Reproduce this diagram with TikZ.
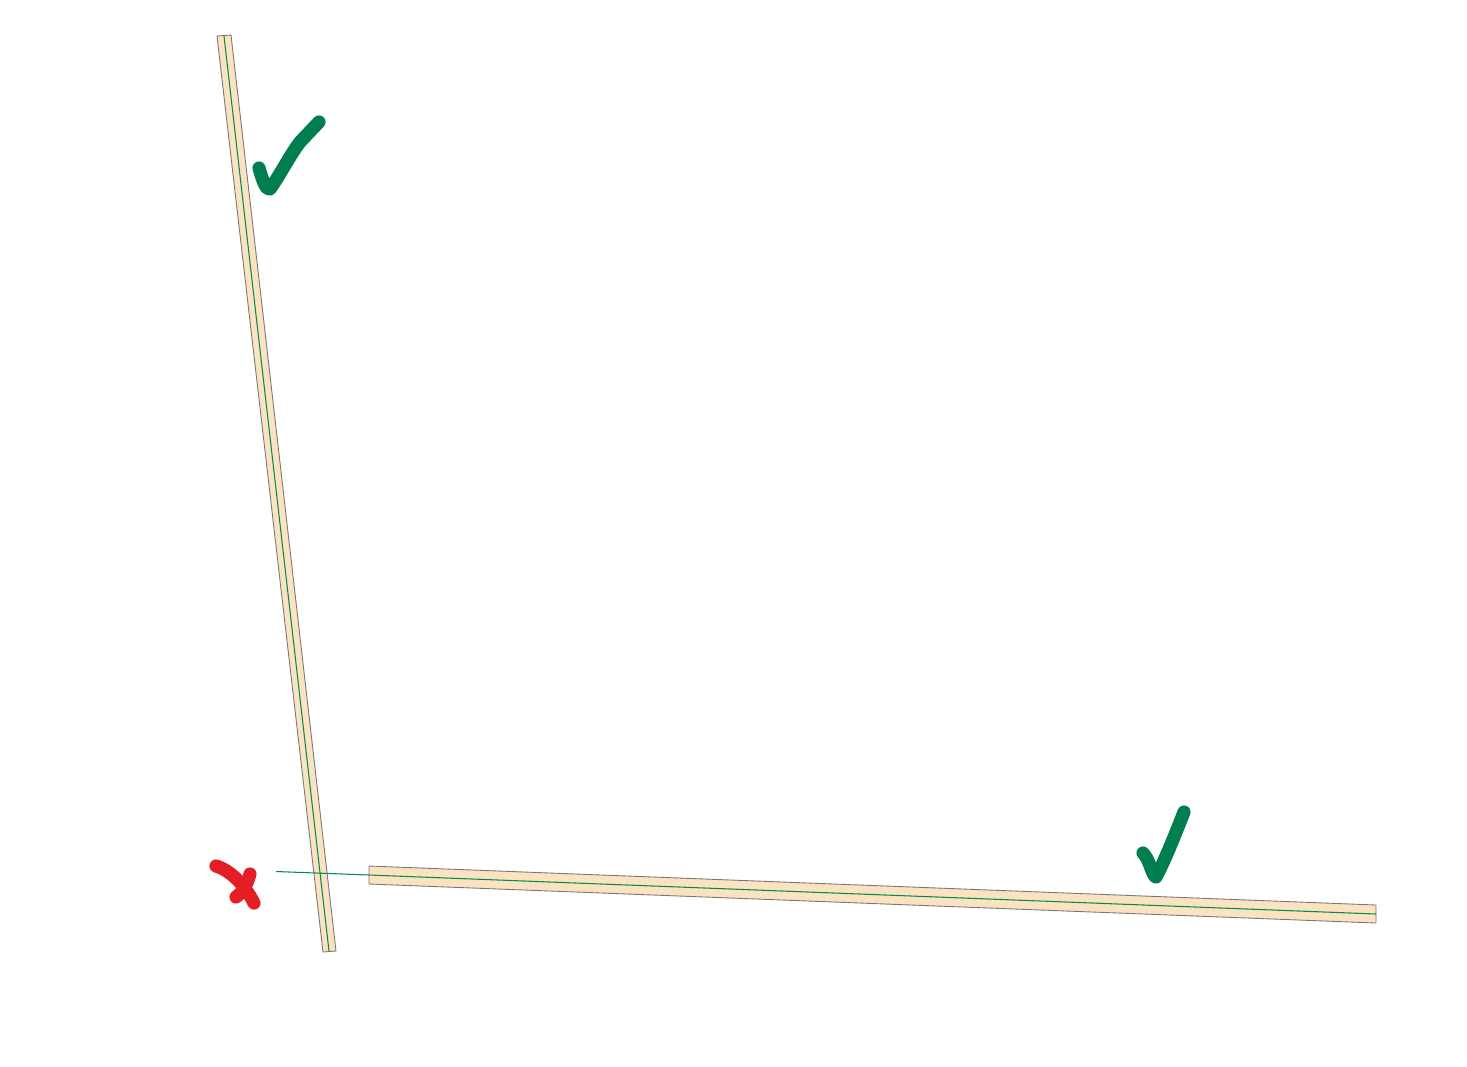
\documentclass[tikz,border=0pt]{standalone}
\definecolor{boardfill}{RGB}{251,226,192}
\definecolor{boardedge}{RGB}{120,120,120}
\definecolor{axisgreen}{RGB}{0,140,80}
\definecolor{tickgreen}{RGB}{0,126,80}
\definecolor{crossred}{RGB}{227,30,36}

\begin{document}
\begin{tikzpicture}[x=0.02cm,y=-0.02cm,
  board/.style={fill=boardfill,draw=boardedge,line width=0.5pt},
  axisline/.style={draw=axisgreen,line width=0.6pt},
  tickmark/.style={draw=tickgreen,line width=7.5pt,line cap=round,line join=round},
  crossmark/.style={draw=crossred,line width=7.5pt,line cap=round,line join=round}]
\useasboundingbox (0,0) rectangle (1467,1066);
% upright board
\draw[board] (217,36) -- (231,35) -- (336,951) -- (323,952) -- cycle;
\draw[axisline] (224,36) -- (329,951);
% lying board
\draw[board] (369,866) -- (1376,905) -- (1376,923) -- (369,884) -- cycle;
\draw[axisline] (276,871.5) -- (369,875) -- (1376,914);
% marks
\draw[tickmark] (259,168) .. controls (263,182) and (266,190) .. (270,189)
  .. controls (280,175) and (290,155) .. (300,142) -- (319,122);
\draw[tickmark] (1143,853) .. controls (1150,860) and (1152,876) .. (1156,877)
  .. controls (1165,860) and (1175,835) .. (1184,812);
\draw[crossmark] (216,866) .. controls (230,870) and (245,885) .. (254,903);
\draw[crossmark] (250,874) .. controls (247,885) and (242,893) .. (236,897);
\end{tikzpicture}
\end{document}
